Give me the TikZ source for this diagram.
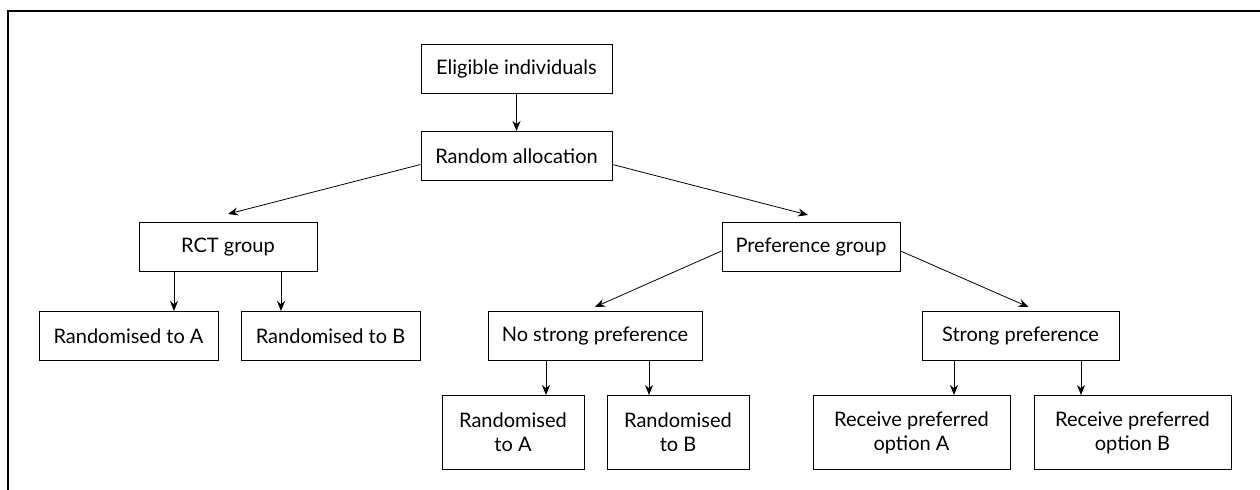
\documentclass[tikz,border=0pt]{standalone}
\usepackage{fontspec}
\setmainfont{Lato}
\usepackage{tikz}
\usetikzlibrary{shapes,arrows,arrows.meta,positioning}

\begin{document}
\begin{tikzpicture}[x=0.5pt,y=0.5pt, >={Stealth[length=5pt,width=4pt]}, every node/.style={font=\fontsize{10}{12}\selectfont}]
\tikzstyle{box}=[draw,rectangle,line width=0.5pt,minimum height=24.5pt,inner sep=0pt,align=center]
\tikzstyle{tallbox}=[box,minimum height=37pt]
\useasboundingbox (0,0) rectangle (1260,-490);
\draw[line width=1pt] (8,-490) -- (8,-11) -- (1260,-11);

\node[box,minimum width=95.5pt] (elig) at (516.5,-69) {Eligible individuals};
\node[box,minimum width=95.5pt,below=18.5pt of elig] (alloc) {Random allocation};
\node[box,minimum width=89pt,below left=20.5pt and 51.5pt of alloc] (rct) {RCT group};
\node[box,minimum width=89pt,below right=20.5pt and 54.5pt of alloc] (pref) {Preference group};
\node[box,minimum width=89.5pt,below=19.5pt of rct,xshift=-49.75pt] (rcta) {Randomised to A};
\node[box,minimum width=89.5pt,right=11pt of rcta] (rctb) {Randomised to B};
\node[box,minimum width=107pt,below left=19.5pt and 9.5pt of pref] (nopref) {No strong preference};
\node[box,minimum width=98.5pt,below right=19.5pt and 10.5pt of pref] (strong) {Strong preference};
\node[tallbox,minimum width=71pt,below=17pt of nopref,xshift=-41pt] (npa) {Randomised\\to A};
\node[tallbox,minimum width=71pt,right=11pt of npa] (npb) {Randomised\\to B};
\node[tallbox,minimum width=98.5pt,below=17pt of strong,xshift=-54.5pt] (reca) {Receive preferred\\option A};
\node[tallbox,minimum width=98.5pt,right=11.5pt of reca] (recb) {Receive preferred\\option B};

\draw[->] (elig) -- (alloc);
\draw[->] ([yshift=-4.25pt]alloc.west) -- ([yshift=4pt]rct.north);
\draw[->] ([yshift=-4.25pt]alloc.east) -- ([xshift=-1.5pt,yshift=3.5pt]pref.north);
\draw[->] ([yshift=-2pt]pref.west) -- ([yshift=2pt]nopref.north);
\draw[->] ([yshift=-2pt]pref.east) -- ([xshift=4pt,yshift=2pt]strong.north);

\draw[->] (rct.south) ++(-27pt,0) coordinate (r1) -- (r1 |- rcta.north);
\draw[->] (rct.south) ++(26.5pt,0) coordinate (r2) -- (r2 |- rctb.north);
\draw[->] (nopref.south) ++(-24.5pt,0) coordinate (n1) -- (n1 |- npa.north);
\draw[->] (nopref.south) ++(27pt,0) coordinate (n2) -- (n2 |- npb.north);
\draw[->] (strong.south) ++(-33.25pt,0) coordinate (s1) -- (s1 |- reca.north);
\draw[->] (strong.south) ++(30.25pt,0) coordinate (s2) -- (s2 |- recb.north);
\end{tikzpicture}
\end{document}
